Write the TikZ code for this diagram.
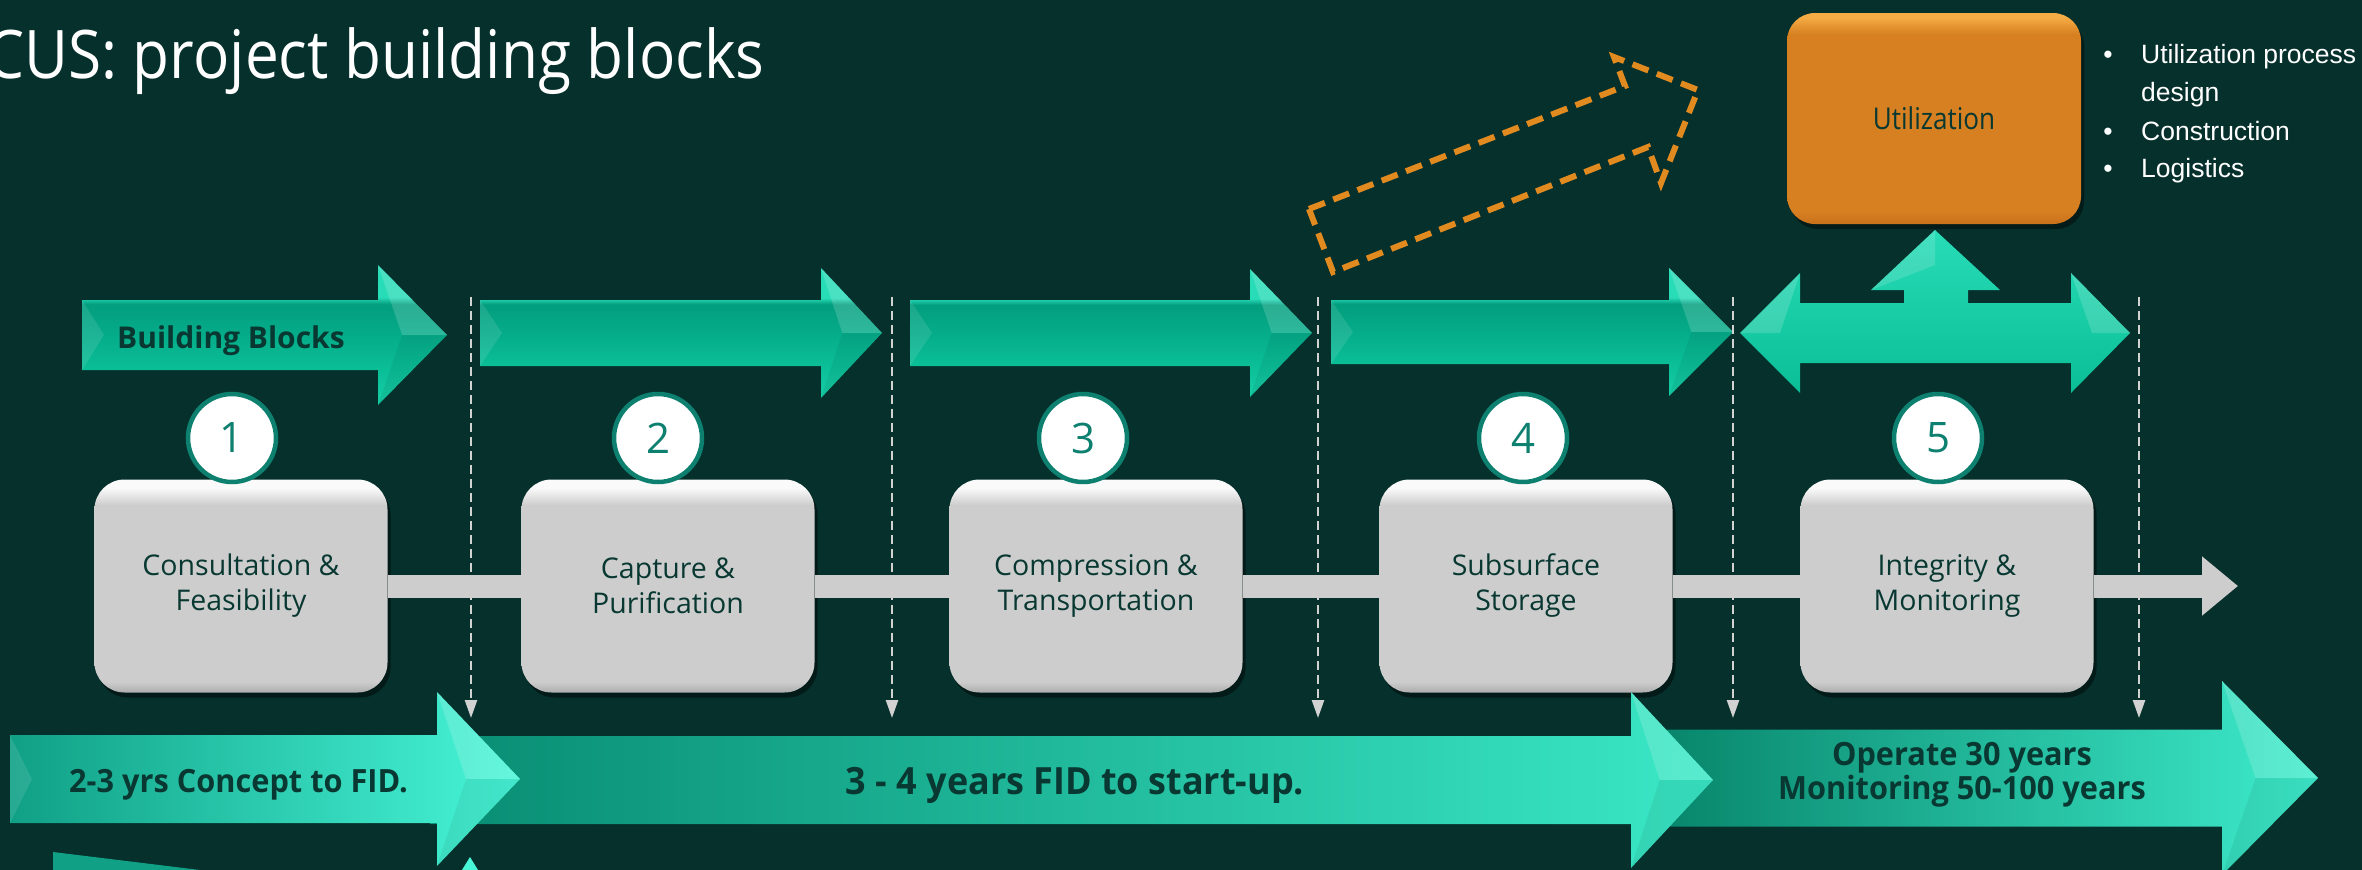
\documentclass[tikz,border=0pt]{standalone}
\usepackage{fontspec}
\usetikzlibrary{arrows.meta,shadows}
\setmainfont{Open Sans}
\newfontfamily\ttlfont[FakeStretch=0.9]{Open Sans}
\newfontfamily\cndfont[FakeStretch=0.87]{Open Sans}
\newfontfamily\boldcnd[FakeStretch=0.96]{Open Sans}
\newfontfamily\arialfont{Liberation Sans}

% palette
\definecolor{bg}{RGB}{5,48,44}
\definecolor{ink}{RGB}{8,56,49}
\definecolor{ring}{RGB}{14,128,112}
\definecolor{boxgray}{RGB}{205,205,205}
\definecolor{boxgrayDk}{RGB}{172,172,172}
\definecolor{boxgrayHi}{RGB}{250,250,250}
\definecolor{orgDk}{RGB}{200,112,26}
\definecolor{orgMid}{RGB}{214,128,34}
\definecolor{orgHi}{RGB}{246,172,68}
\definecolor{dashorange}{RGB}{224,138,32}
\definecolor{divider}{RGB}{210,210,210}
\definecolor{tA}{RGB}{22,206,166}
\definecolor{tB}{RGB}{10,190,150}
\definecolor{tC}{RGB}{5,172,138}
\definecolor{tD}{RGB}{3,158,126}
\definecolor{tE}{RGB}{40,220,184}
\definecolor{aL}{RGB}{16,160,134}
\definecolor{aR}{RGB}{72,246,216}
\definecolor{bL}{RGB}{8,140,114}
\definecolor{bR}{RGB}{58,232,198}
\definecolor{cL}{RGB}{6,130,104}
\definecolor{cR}{RGB}{62,236,204}

% shadings (path box maps to 25bp..75bp)
\pgfdeclareverticalshading{grayboxshade}{100bp}{color(0bp)=(boxgrayDk); color(25bp)=(boxgrayDk); color(27.5bp)=(boxgray); color(69bp)=(boxgray); color(73bp)=(boxgrayHi); color(75bp)=(boxgrayHi); color(100bp)=(boxgrayHi)}
\pgfdeclareverticalshading{orangeshade}{100bp}{color(0bp)=(orgDk); color(25bp)=(orgDk); color(28bp)=(orgMid); color(70bp)=(orgMid); color(74bp)=(orgHi); color(75bp)=(orgHi); color(100bp)=(orgHi)}
\pgfdeclareverticalshading{tealtop}{100bp}{color(0bp)=(tA); color(25bp)=(tA); color(38bp)=(tB); color(50bp)=(tC); color(61bp)=(tD); color(63.5bp)=(tE); color(75bp)=(tE); color(100bp)=(tE)}

% a right-pointing block arrow: x0, head base, tip, y centre, half body, half head, style
\newcommand\TealArrow[7]{%
  \path[#7] (#1,#4-#5) -- (#2,#4-#5) -- (#2,#4-#6) -- (#3,#4) -- (#2,#4+#6)
        -- (#2,#4+#5) -- (#1,#4+#5) -- cycle;
  \fill[white,opacity=.16] (#2,#4-#6) -- (#3,#4) -- ({#2+0.35*(#3-#2)},#4) -- cycle;
  \fill[black,opacity=.06] (#2,#4+#6) -- (#3,#4) -- ({#2+0.35*(#3-#2)},#4) -- cycle;
  \fill[white,opacity=.10] (#1,#4-#5) -- (#1+22,#4) -- (#1,#4+#5) -- cycle;
}
\newcommand\boxfont{\fontsize{28.5}{35}\selectfont}
\newcommand\numfont{\fontsize{42}{42}\selectfont}

\begin{document}
\begin{tikzpicture}[x=1pt,y=-1pt,
  gbox/.style={shading=grayboxshade, rounded corners=30pt, minimum width=293pt,
    minimum height=213pt, inner sep=0pt, align=center, text=ink, font=\boxfont,
    drop shadow={shadow xshift=3pt, shadow yshift=-5pt, opacity=.45, fill=black}},
  numc/.style={circle, draw=ring, line width=4.5pt, fill=white, minimum size=88pt,
    inner sep=0pt, text=ring, font=\numfont},
  bar/.style={line width=23pt, draw=boxgray},
  vdiv/.style={draw=divider, line width=2.5pt, dash pattern=on 9pt off 5pt,
    -{Triangle[width=12pt,length=18pt]}},
  toparrow/.style={shading=tealtop},
  bottext/.style={font=\boldcnd\bfseries\fontsize{32}{34}\selectfont, text=ink, inner sep=0pt},
  bullet/.style={font=\arialfont\fontsize{26.5}{38}\selectfont, text=white, inner sep=0pt},
]
\useasboundingbox (0,0) rectangle (2362,870);
\fill[bg] (0,0) rectangle (2362,870);

% title
\node[anchor=base west, inner sep=0pt, text=white,
      font=\ttlfont\fontsize{67}{70}\selectfont] (title) at (-14,78) {CUS: project building blocks};

% phase arrows along the top
\TealArrow{82}{378}{447}{335}{35}{70}{toparrow}
\TealArrow{480}{821}{882}{333}{33}{65}{toparrow}
\TealArrow{910}{1250}{1312}{333}{33}{64}{toparrow}
\TealArrow{1331}{1669}{1733}{332}{32}{64}{toparrow}
\node[anchor=base, inner sep=0pt, text=ink,
      font=\bfseries\fontsize{30}{32}\selectfont] (bbl) at (231,348) {Building Blocks};

% two-way arrow with the branch up to utilization
\path[top color=tE, middle color=tC, bottom color=tB]
  (1740,333) -- (1800,273) -- (1800,303) -- (1904,303) -- (1904,290) -- (1871,290)
  -- (1935,230) -- (2000,290) -- (1968,290) -- (1968,303) -- (2071,303) -- (2071,273)
  -- (2130,333) -- (2071,393) -- (2071,363) -- (1800,363) -- (1800,393) -- cycle;
\fill[white,opacity=.16] (1800,273) -- (1740,333) -- (1780,333) -- cycle;
\fill[white,opacity=.16] (2071,273) -- (2130,333) -- (2092,333) -- cycle;
\fill[white,opacity=.14] (1871,290) -- (1935,230) -- (1935,265) -- cycle;

% utilization branch
\node[shading=orangeshade, rounded corners=28pt, minimum width=294pt, minimum height=211pt,
      inner sep=0pt, text=ink, font=\cndfont\fontsize{30}{32}\selectfont,
      drop shadow={shadow xshift=3pt, shadow yshift=-5pt, opacity=.4, fill=black}]
      (util) at (1934,118.5) {Utilization};
\node[bullet, anchor=base] (d1) at (2108,63) {•};
\node[bullet, anchor=base west] (u1) at (2141,63) {Utilization process};
\node[bullet, anchor=base west] (u2) at (2141,101) {design};
\node[bullet, anchor=base] (d2) at (2108,140) {•};
\node[bullet, anchor=base west] (u3) at (2141,140) {Construction};
\node[bullet, anchor=base] (d3) at (2108,177) {•};
\node[bullet, anchor=base west] (u4) at (2141,177) {Logistics};

% dashed outline arrow
\coordinate (da1) at (1309,209);
\coordinate (da2) at (1333,272);
\coordinate (da3) at (1648,147);
\coordinate (da4) at (1661,183);
\coordinate (da5) at (1698,90);
\coordinate (da6) at (1614,57);
\coordinate (da7) at (1625,86);
\draw[dashorange, line width=6pt, dash pattern=on 17pt off 9pt, line join=miter]
  (da1) -- (da2) -- (da3) -- (da4) -- (da5) -- (da6) -- (da7) -- cycle;

% phase dividers
\foreach \i/\x in {1/471,2/892,3/1318,4/1733,5/2139}{
  \coordinate (vt\i) at (\x,297);
  \coordinate (vb\i) at (\x,718);
}
\foreach \i in {1,...,5}{ \draw[vdiv] (vt\i) -- (vb\i); }

% building blocks
\node[gbox] (b1) at (241,586) {Consultation \&\\Feasibility};
\node[gbox] (b2) at (668,586) {Capture \&\\Purification};
\node[gbox] (b3) at (1096,586) {Compression \&\\Transportation};
\node[gbox] (b4) at (1526,586) {Subsurface\\Storage};
\node[gbox] (b5) at (1947,586) {Integrity \&\\Monitoring};
\coordinate (flowend) at (2238,586);
\draw[bar] (b1.east) -- (b2.west);
\draw[bar] (b2.east) -- (b3.west);
\draw[bar] (b3.east) -- (b4.west);
\draw[bar] (b4.east) -- (b5.west);
\draw[bar, -{Triangle[width=57pt,length=36pt]}] (b5.east) -- (flowend);

\node[numc] (n1) at (232,438) {1};
\node[numc] (n2) at (658,438) {2};
\node[numc] (n3) at (1083,438) {3};
\node[numc] (n4) at (1523,438) {4};
\node[numc] (n5) at (1938,438) {5};

% time line along the bottom
\TealArrow{1640}{2222}{2318}{778}{48.5}{97}{left color=cL, right color=cR}
\TealArrow{430}{1631}{1713}{780}{44}{88}{left color=bL, right color=bR}
\TealArrow{10}{437}{520}{779}{44}{87}{left color=aL, right color=aR}
\fill[aL] (53,852) -- (200,870) -- (53,870) -- cycle;
\fill[aR] (470,857) -- (478,870) -- (462,870) -- cycle;

\node[bottext, anchor=base west] (t1) at (69,792) {2-3 yrs Concept to FID.};
\node[bottext, anchor=base, font=\boldcnd\bfseries\fontsize{37.5}{40}\selectfont]
      (t2) at (1075,794) {3 - 4 years FID to start-up.};
\node[bottext, anchor=base] (t3a) at (1962,765) {Operate 30 years};
\node[bottext, anchor=base] (t3b) at (1962,799) {Monitoring 50-100 years};
\end{tikzpicture}
\end{document}
